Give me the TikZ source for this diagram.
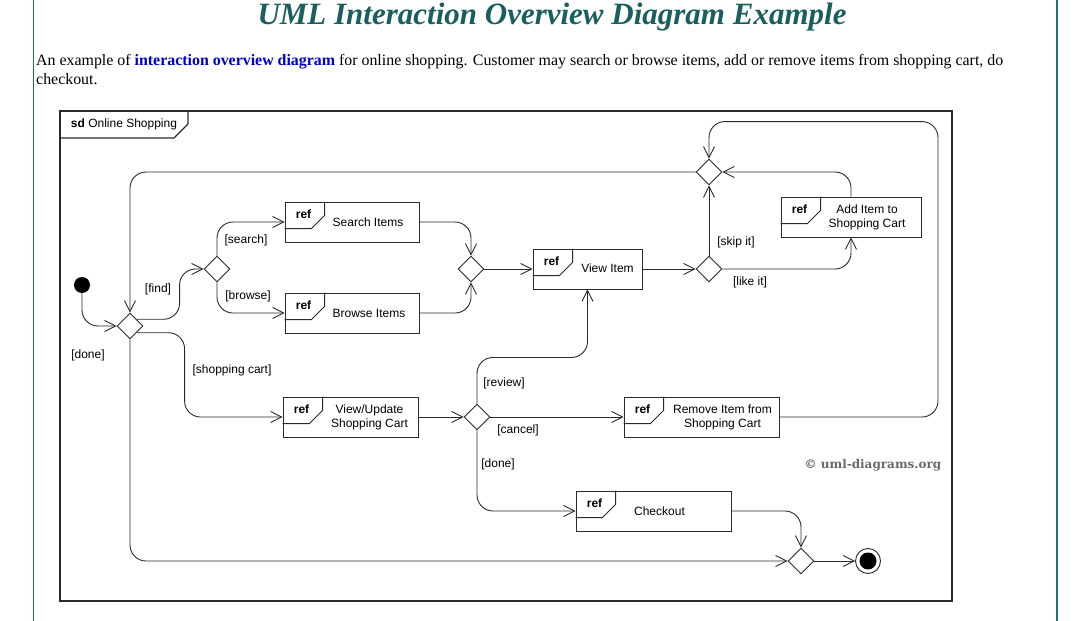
\documentclass[tikz,border=0pt]{standalone}
\usepackage{fontspec}
\setmainfont{Liberation Serif}
\newfontfamily\diagfont{Liberation Sans}
\newfontfamily\markfont{DejaVu Serif}
\usetikzlibrary{shapes.geometric, positioning, arrows.meta, calc}
\definecolor{titlecol}{HTML}{1B5E5E}
\definecolor{bordercol}{HTML}{1F6E85}
\definecolor{linkcol}{HTML}{0000CC}
\definecolor{linecol}{HTML}{2A2A2A}
\definecolor{markcol}{HTML}{6A6A6A}
\tikzset{
  decision/.style={diamond, aspect=1, minimum width=26pt, minimum height=26pt, inner sep=0pt, draw=linecol, fill=white, line width=0.9pt},
  refbox/.style={rectangle, draw=linecol, fill=white, minimum height=40pt, inner sep=0pt, line width=0.9pt},
  boxtext/.style={font=\diagfont\fontsize{12}{14}\selectfont, align=center, text=black},
  guard/.style={font=\diagfont\fontsize{12}{14}\selectfont, text=black, inner sep=0pt},
  introtext/.style={anchor=base west, inner sep=0pt, font=\fontsize{15.9}{19}\selectfont},
  flow/.style={draw=linecol, line width=0.9pt, rounded corners=16pt, -{Straight Barb[length=11pt,width=11pt]}}
}

\begin{document}
\begin{tikzpicture}[x=1pt, y=-1pt]
    \useasboundingbox (0,0) rectangle (1085,621);

    % Bordes de la pagina
    \draw[bordercol, line width=1.2pt] (33.5,0) -- (33.5,621);
    \draw[bordercol, line width=1.2pt] (1057,0) -- (1057,621);

    % Titulo y texto de introduccion
    \node[anchor=base, inner sep=0pt, font=\bfseries\itshape\fontsize{31}{33}\selectfont, text=titlecol] (title) at (552,24) {UML Interaction Overview Diagram Example};
    \node[introtext] (intro1) at (36,65)
        {An example of \textcolor{linkcol}{\textbf{interaction overview diagram}} for online shopping. Customer may search or browse items, add or remove items from shopping cart, do};
    \node[introtext] (intro2) at (36,84) {checkout.};

    % Marco del diagrama con su etiqueta
    \draw[linecol, line width=1.1pt] (60,111) rectangle (952,601);
    \draw[linecol, line width=1.1pt] (60,138) -- (174,138) -- (188,124) -- (188,111);
    \node[font=\diagfont\fontsize{12}{14}\selectfont] (frametag) at (124,124) {\textbf{sd} Online Shopping};

    % Nodos inicial y final
    \node[circle, fill=black, minimum size=16pt, inner sep=0pt] (ini) at (82,285) {};
    \node[circle, draw=linecol, line width=0.9pt, minimum size=25pt, inner sep=0pt] (fin) at (868,561) {};
    \fill (fin.center) circle (8.5);

    % Decisiones
    \node[decision] (d1) at (130,326) {};
    \node[decision] (d2) at (217,269) {};
    \node[decision] (d3) at (471,269) {};
    \node[decision] (d4) at (709,269) {};
    \node[decision] (d5) at (709,172) {};
    \node[decision] (d6) at (801,561) {};
    \node[decision] (d7) at (477,417) {};

    % Cajas de referencia
    \node[refbox, minimum width=134pt, label={[boxtext, xshift=16pt]center:Search Items}] (search) at (352,222) {};
    \node[refbox, minimum width=134pt, label={[boxtext, xshift=17pt]center:Browse Items}] (browse) at (352,313) {};
    \node[refbox, minimum width=109pt, label={[boxtext, xshift=20pt, yshift=1pt]center:View Item}] (view) at (587.5,269) {};
    \node[refbox, minimum width=140pt, label={[boxtext, xshift=16pt]center:Add Item to\\Shopping Cart}] (add) at (851,217) {};
    \node[refbox, minimum width=135pt, label={[boxtext, xshift=19pt]center:View/Update\\Shopping Cart}] (cart) at (350.5,417) {};
    \node[refbox, minimum width=155pt, label={[boxtext, xshift=21pt]center:Remove Item from\\Shopping Cart}] (remove) at (701.5,417) {};
    \node[refbox, minimum width=155pt, label={[boxtext, xshift=6pt]center:Checkout}] (checkout) at (653.5,511) {};

    % Pestana "ref" de cada caja
    \foreach \b in {search,browse,view,add,cart,remove,checkout} {
        \draw[linecol, line width=0.9pt] ($(\b.north west)+(0,27)$) -- ++(27,0) -- ++(13,-13) -- ++(0,-14);
        \node[font=\diagfont\bfseries\fontsize{12}{14}\selectfont, inner sep=0pt] (\b-ref) at ($(\b.north west)+(19,13)$) {ref};
    }

    % Flujos
    \draw[flow] (ini) |- (d1.west);
    \draw[flow] (d1.north east) -| ([xshift=-24pt]d2.west) -- (d2.west);
    \draw[flow] (d1.south east) -| ([xshift=-98pt]cart.west) -- (cart.west);
    \draw[flow] (d1.south) |- (d6.west);
    \draw[flow] (d2.north) |- (search.west);
    \draw[flow] (d2.south) |- (browse.west);
    \draw[flow] (search.east) -| (d3.north);
    \draw[flow] (browse.east) -| (d3.south);
    \draw[flow] (d3.east) -- (view.west);
    \draw[flow] (view.east) -- (d4.west);
    \draw[flow] (d4.north) -- (d5.south);
    \draw[flow] (d4.east) -| (add.south);
    \draw[flow] (add.north) |- (d5.east);
    \draw[flow] (d5.west) -| (d1.north);
    \draw[flow] (remove.east) -| ([shift={(229,-37)}]d5.north) -| (d5.north);
    \draw[flow] (cart.east) -- (d7.west);
    \draw[flow] (d7.north) |- ([yshift=-68pt]view.south) -- (view.south);
    \draw[flow] (d7.east) -- (remove.west);
    \draw[flow] (d7.south) |- (checkout.west);
    \draw[flow] (checkout.east) -| (d6.north);
    \draw[flow] (d6.east) -- (fin.west);

    % Guardas
    \node[guard] (g-find) at (158,289) {[find]};
    \node[guard] (g-search) at (246,240) {[search]};
    \node[guard] (g-browse) at (248,296) {[browse]};
    \node[guard] (g-done1) at (88,355) {[done]};
    \node[guard] (g-cart) at (232,370) {[shopping cart]};
    \node[guard] (g-skip) at (736,242) {[skip it]};
    \node[guard] (g-like) at (750,282) {[like it]};
    \node[guard] (g-review) at (504,383) {[review]};
    \node[guard] (g-cancel) at (518,430) {[cancel]};
    \node[guard] (g-done2) at (498,464) {[done]};

    % Marca de agua
    \node[font=\markfont\bfseries\fontsize{12}{14}\selectfont, text=markcol] (mark) at (873,465) {\textcopyright{} uml-diagrams.org};
\end{tikzpicture}
\end{document}
